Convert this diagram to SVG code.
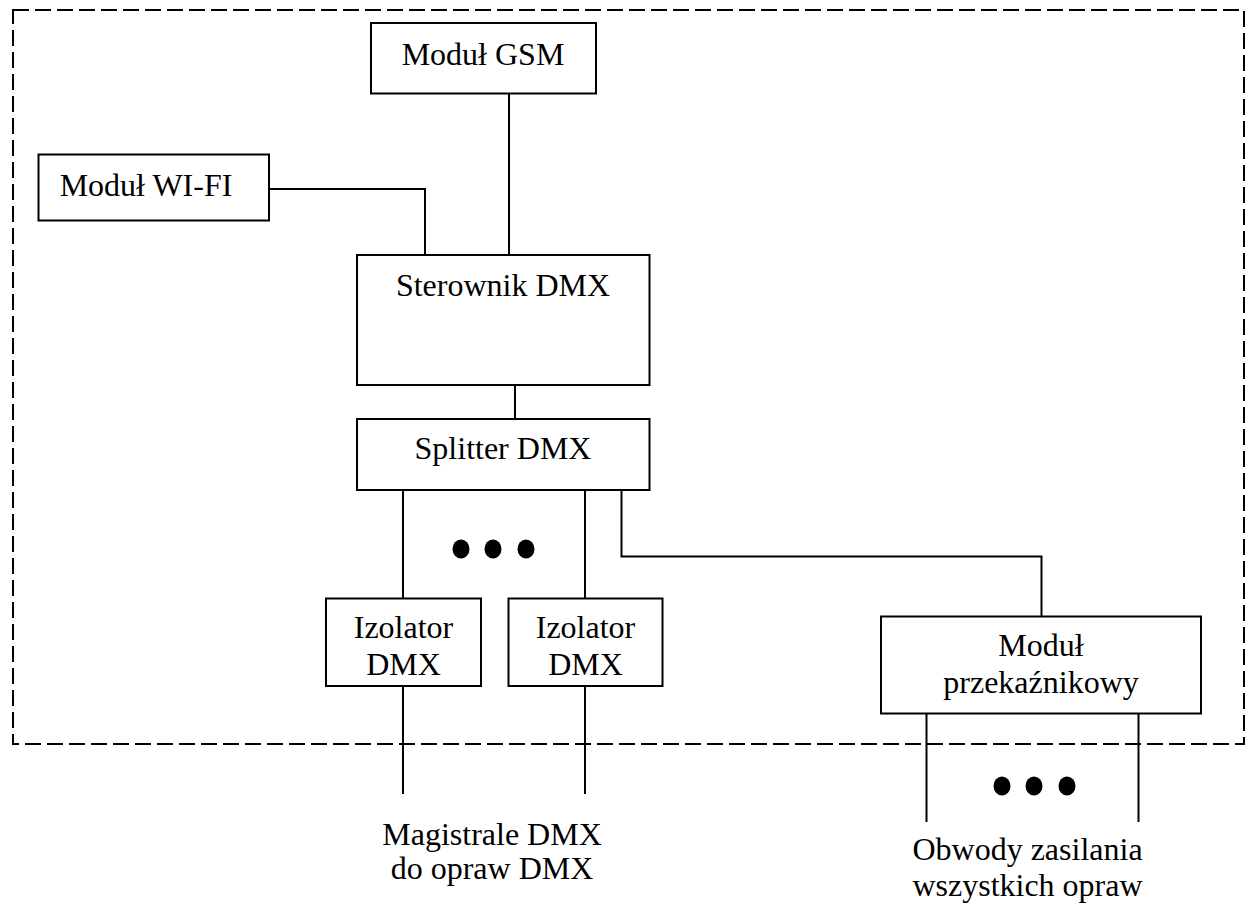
<svg xmlns="http://www.w3.org/2000/svg" width="1246" height="904" viewBox="0 0 1246 904">
<style>
.box{fill:#fff;stroke:#000;stroke-width:2}
.ln{fill:none;stroke:#000;stroke-width:2}
.dash{fill:none;stroke:#000;stroke-width:2;stroke-dasharray:16 6}
text{font-family:"Liberation Serif","Times New Roman",serif;font-size:32px;fill:#000;text-anchor:middle}
.dot{fill:#000}
</style>
<rect width="1246" height="904" fill="#fff"/>
<rect id="boundary" class="dash" x="13" y="10" width="1231" height="734"/>
<g id="connectors">
<polyline class="ln" points="509,94 509,255"/>
<polyline class="ln" points="269,189 425,189 425,255"/>
<polyline class="ln" points="515,385 515,419"/>
<polyline class="ln" points="403,490 403,598"/>
<polyline class="ln" points="585,490 585,598"/>
<polyline class="ln" points="621.5,490 621.5,556.5 1041.5,556.5 1041.5,616"/>
<polyline class="ln" points="403,686 403,794"/>
<polyline class="ln" points="585,686 585,794"/>
<polyline class="ln" points="926.5,712 926.5,822"/>
<polyline class="ln" points="1138.5,714 1138.5,822"/>
</g>
<g id="dots1">
<ellipse class="dot" cx="461" cy="549" rx="8.5" ry="9.5"/>
<ellipse class="dot" cx="493" cy="549" rx="8.5" ry="9.5"/>
<ellipse class="dot" cx="526" cy="549" rx="8.5" ry="9.5"/>
</g>
<g id="dots2">
<ellipse class="dot" cx="1002" cy="786" rx="8.5" ry="9.5"/>
<ellipse class="dot" cx="1034" cy="786" rx="8.5" ry="9.5"/>
<ellipse class="dot" cx="1067" cy="786" rx="8.5" ry="9.5"/>
</g>
<g id="gsm">
<rect class="box" x="371" y="23" width="225" height="70.5"/>
<text x="483" y="65">Moduł GSM</text>
</g>
<g id="wifi">
<rect class="box" x="38.5" y="154.5" width="230.5" height="66"/>
<text x="146" y="196">Moduł WI-FI</text>
</g>
<g id="sterownik">
<rect class="box" x="357" y="255" width="292.5" height="130"/>
<text x="503" y="296">Sterownik DMX</text>
</g>
<g id="splitter">
<rect class="box" x="357" y="419" width="292.5" height="71"/>
<text x="503" y="459">Splitter DMX</text>
</g>
<g id="izolator1">
<rect class="box" x="326" y="598.5" width="155" height="87.5"/>
<text x="403.5" y="638">Izolator</text>
<text x="403.5" y="675">DMX</text>
</g>
<g id="izolator2">
<rect class="box" x="508.5" y="598.5" width="154" height="87.5"/>
<text x="585.5" y="638">Izolator</text>
<text x="585.5" y="675">DMX</text>
</g>
<g id="przekaznik">
<rect class="box" x="881" y="616.5" width="320" height="97"/>
<text x="1041" y="656">Moduł</text>
<text x="1041" y="693">przekaźnikowy</text>
</g>
<g id="label-dmx">
<text x="492" y="845">Magistrale DMX</text>
<text x="492" y="879">do opraw DMX</text>
</g>
<g id="label-power">
<text x="1027.5" y="860">Obwody zasilania</text>
<text x="1027.5" y="896">wszystkich opraw</text>
</g>
</svg>
